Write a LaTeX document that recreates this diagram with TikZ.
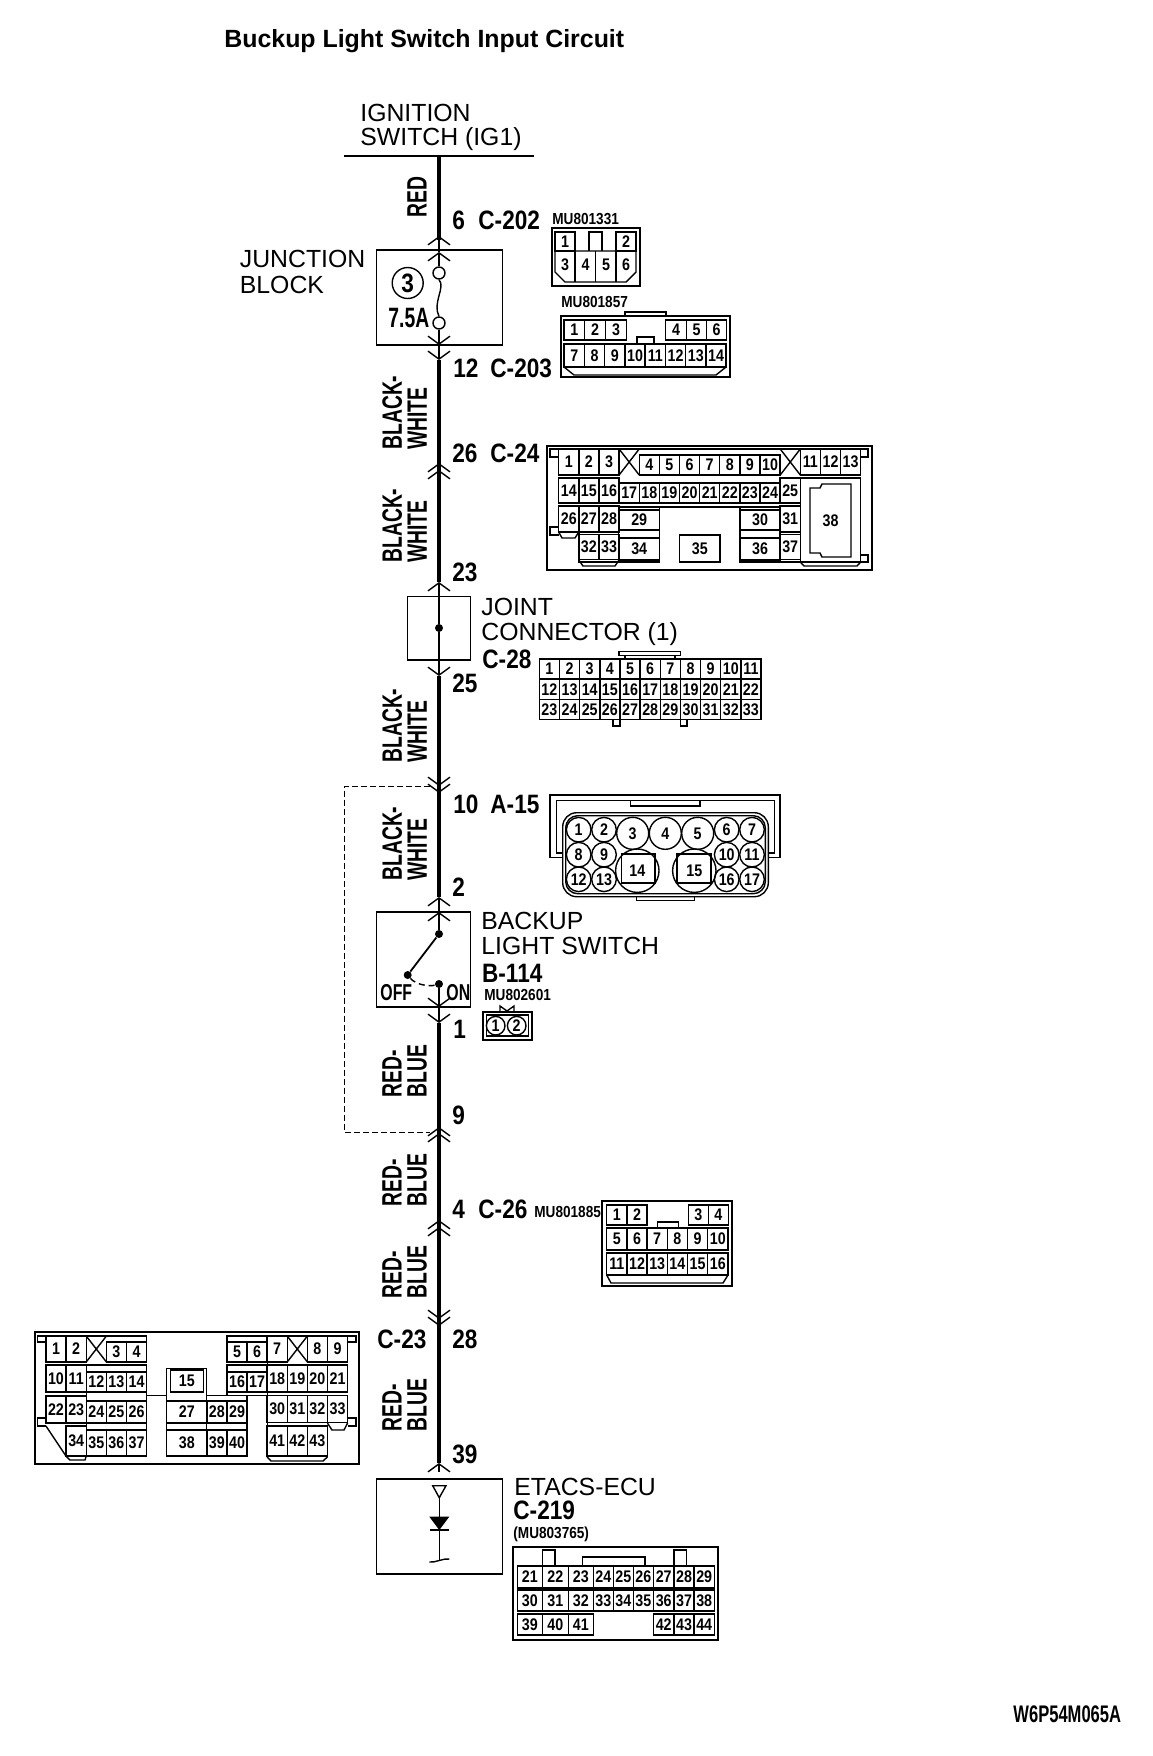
\documentclass[tikz,border=0pt]{standalone}
\usepackage{fontspec}
\setmainfont{Liberation Sans}
\newfontfamily\labface[FakeStretch=.85]{Liberation Sans}
\newfontfamily\wireface[FakeStretch=.69]{Liberation Sans}
\newcommand{\pinfont}{\labface\bfseries\fontsize{8.4}{8.4}\selectfont}
\newcommand{\mufont}{\labface\bfseries\fontsize{8}{8}\selectfont}
\newcommand{\labfont}{\labface\bfseries\fontsize{13.3}{13.3}\selectfont}
\newcommand{\wirefont}{\wireface\bfseries\fontsize{14}{12.5}\selectfont}
\newcommand{\namefont}{\fontsize{12.4}{12}\selectfont}
\usetikzlibrary{arrows.meta}
\tikzset{
  thickwire/.style={line width=2pt},
  thinwire/.style={line width=.7pt},
  barb/.style={-{Straight Barb[length=4pt,width=11pt]}},
  boxline/.style={line width=.7pt},
  pinline/.style={line width=.7pt},
  pinbox/.style 2 args={draw,line width=.7pt,inner sep=0pt,font=\pinfont,minimum width=#1*.5pt,minimum height=#2*.5pt},
  pintext/.style={inner sep=0pt,font=\pinfont},
  pinround/.style={circle,draw,line width=.7pt,inner sep=0pt,font=\pinfont,minimum size=#1*.5pt},
  dotnode/.style={circle,fill=black,inner sep=0pt,minimum size=4pt},
  fusenode/.style={circle,draw,line width=.7pt,inner sep=0pt,minimum size=6pt},
  lab/.style={anchor=base west,inner sep=0pt,font=\labfont},
  mulab/.style={anchor=base west,inner sep=0pt,font=\mufont},
  namelab/.style={anchor=base west,inner sep=0pt,font=\namefont},
  wirelab/.style={anchor=west,rotate=90,inner sep=0pt,align=left,font=\wirefont},
  swlab/.style={anchor=base west,inner sep=0pt,font=\wireface\bfseries\fontsize{#1}{#1}\selectfont}
}
\begin{document}
\begin{tikzpicture}[x=.5pt,y=-.5pt]
\useasboundingbox (0,0) rectangle (1152,1756);
\node[anchor=base west,inner sep=0pt,font=\bfseries\fontsize{12.45}{12.45}\selectfont] (title) at (224,47) {Buckup Light Switch Input Circuit};
\node[namelab] (ign1) at (360,121) {IGNITION};
\node[namelab] (ign2) at (360,145) {SWITCH (IG1)};
\node[namelab] (jb1) at (239.5,267) {JUNCTION};
\node[namelab] (jb2) at (239.5,293) {BLOCK};
\node[namelab] (jc1) at (481,615) {JOINT};
\node[namelab] (jc2) at (481,640) {CONNECTOR (1)};
\node[namelab] (bl1) at (481,929) {BACKUP};
\node[namelab] (bl2) at (481,954) {LIGHT SWITCH};
\node[namelab] (ecu) at (514,1495) {ETACS-ECU};
\node[lab] (n6) at (452,229) {6};
\node[lab] (c202) at (478,229) {C-202};
\node[lab] (n12) at (453,377) {12};
\node[lab] (c203) at (490,377) {C-203};
\node[lab] (n26) at (452,462) {26};
\node[lab] (c24) at (490,462) {C-24};
\node[lab] (n23) at (452,581) {23};
\node[lab] (n25) at (452,692) {25};
\node[lab] (c28) at (482,668) {C-28};
\node[lab] (n10) at (453,813) {10};
\node[lab] (a15) at (490,813) {A-15};
\node[lab] (n2) at (452,896) {2};
\node[lab] (b114) at (481.7,982) {B-114};
\node[lab] (n1) at (453,1038) {1};
\node[lab] (n9) at (452,1124) {9};
\node[lab] (n4) at (452,1218) {4};
\node[lab] (c26) at (478,1218) {C-26};
\node[lab] (c23) at (377,1348) {C-23};
\node[lab] (n28) at (452,1348) {28};
\node[lab] (n39) at (452,1463) {39};
\node[lab] (c219) at (513,1519) {C-219};
\node[mulab] (mu1) at (552,224) {MU801331};
\node[mulab] (mu2) at (561,307) {MU801857};
\node[mulab] (mu3) at (484,1000.7) {MU802601};
\node[mulab] (mu4) at (534,1217) {MU801885};
\node[mulab] (mu5) at (513,1538) {(MU803765)};
\node[swlab=12] (code) at (1013,1722) {W6P54M065A};
\node[wirelab] (w1) at (417,218) {RED};
\node[wirelab] (w2) at (404.5,450) {BLACK-\\WHITE};
\node[wirelab] (w3) at (404.5,563) {BLACK-\\WHITE};
\node[wirelab] (w4) at (404.5,763) {BLACK-\\WHITE};
\node[wirelab] (w5) at (404.5,881) {BLACK-\\WHITE};
\node[wirelab] (w6) at (404.5,1098) {RED-\\BLUE};
\node[wirelab] (w7) at (404.5,1207) {RED-\\BLUE};
\node[wirelab] (w8) at (404.5,1299) {RED-\\BLUE};
\node[wirelab] (w9) at (404.5,1432) {RED-\\BLUE};
\draw[boxline] (376.7,250) rectangle (502.7,345);
\draw[boxline] (407.7,596.7) rectangle (470.7,660);
\draw[boxline] (376.7,912) rectangle (470.7,1007);
\draw[boxline] (376.7,1479) rectangle (502.3,1574);
\draw[line width=.5pt,dash pattern=on 3pt off 1.5pt] (430,786) -- (344.7,786) -- (344.7,1132.3) -- (430,1132.3);
\draw[line width=1.1pt] (344,156) -- (534,156);
\coordinate (ig) at (439,156);
\coordinate (m236) at (439,236);
\coordinate (m240) at (439,240);
\coordinate (m252) at (439,252);
\node[fusenode] (fusea) at (439,273) {};
\node[fusenode] (fuseb) at (439,323) {};
\coordinate (m345) at (439,345);
\coordinate (m360) at (439,360);
\coordinate (m463) at (439,463);
\coordinate (m470) at (439,470);
\coordinate (m480) at (439,480);
\coordinate (m582) at (439,582);
\node[dotnode] (jdot) at (439,628) {};
\coordinate (m676) at (439,676);
\coordinate (m779) at (439,779);
\coordinate (m786) at (439,786);
\coordinate (m793) at (439,793);
\coordinate (m897) at (439,897);
\coordinate (m912) at (439,912);
\node[dotnode] (swa) at (439,934) {};
\node[dotnode] (swb) at (407.7,975) {};
\node[dotnode] (swc) at (439,984) {};
\coordinate (m1007) at (439,1007);
\coordinate (m1023) at (439,1023);
\coordinate (m1127) at (439,1127);
\coordinate (m1133) at (439,1133);
\coordinate (m1141) at (439,1141);
\coordinate (m1220) at (439,1220);
\coordinate (m1227) at (439,1227);
\coordinate (m1235) at (439,1235);
\coordinate (m1312) at (439,1312);
\coordinate (m1319) at (439,1319);
\coordinate (m1326) at (439,1326);
\coordinate (m1463) at (439,1463);
\coordinate (m1472) at (439,1472);
\draw[thickwire] (ig) -- (m240);
\draw[thickwire] (m360) -- (m582);
\draw[thickwire] (m676) -- (m897);
\draw[thickwire] (m1023) -- (m1463);
\draw[thinwire,barb] (m252) -- (m236);
\draw[thinwire,barb] (fusea) -- (m252);
\draw[thinwire] (fusea.south) .. controls (446,287) and (432,303) .. (fuseb.north);
\draw[thinwire,barb] (fuseb) -- (m345);
\draw[thinwire,barb] (m345) -- (m360);
\draw[thinwire,barb] (m470) -- (m463);
\draw[thinwire,barb] (m480) -- (m470);
\draw[thinwire,barb] (jdot) -- (m582);
\draw[thinwire,barb] (jdot) -- (m676);
\draw[thinwire,barb] (m779) -- (m786);
\draw[thinwire,barb] (m786) -- (m793);
\draw[thinwire,barb] (m912) -- (m897);
\draw[thinwire,barb] (swa) -- (m912);
\draw[line width=.9pt] (swa) -- (swb);
\draw[thinwire,dash pattern=on 3pt off 2pt] (swb) .. controls (415,984) and (428,987) .. (swc);
\draw[thinwire,barb] (swc) -- (m1007);
\draw[thinwire,barb] (m1007) -- (m1023);
\draw[thinwire,barb] (m1133) -- (m1127);
\draw[thinwire,barb] (m1141) -- (m1133);
\draw[thinwire,barb] (m1227) -- (m1220);
\draw[thinwire,barb] (m1235) -- (m1227);
\draw[thinwire,barb] (m1312) -- (m1319);
\draw[thinwire,barb] (m1319) -- (m1326);
\draw[thinwire,barb] (m1472) -- (m1463);
\node[pinround=31,font=\labfont] (fuse3) at (407.7,283) {3};
\node[swlab=14] (amp) at (388,327) {7.5A};
\node[swlab=11.5] (off) at (380,1000) {OFF};
\node[swlab=11.5] (on) at (446,1000) {ON};
\coordinate (tri) at (439.3,1497.7);
\coordinate (diode) at (439.3,1530);
\coordinate (gnd) at (439.3,1560);
\draw[thinwire] (432.7,1485.7) -- (446,1485.7) -- (tri) -- cycle;
\draw[thinwire] (tri) -- (diode);
\fill (429.3,1516.7) -- (449.3,1516.7) -- (diode) -- cycle;
\draw[thinwire] (429.5,1530) -- (449,1530);
\draw[thinwire] (diode) -- (gnd);
\draw[thinwire] (429.3,1562) .. controls (435,1563) and (443,1558) .. (449.3,1559);
\draw[line width=.85pt] (552,228) rectangle (640,286);
\node[pinbox={20}{19}] (c202p1) at (565,241.5) {1};
\node[pinbox={20}{19}] (c202p2) at (626,241.5) {2};
\draw[pinline] (589,251) -- (589,232) -- (602,232) -- (602,251);
\draw[pinline] (555,251) -- (636,251) -- (636,272) -- (626,282) -- (565,282) -- (555,272) -- cycle;
\draw[pinline] (575,251) -- (575,282) (595.5,251) -- (595.5,282) (616,251) -- (616,282);
\node[pintext] (c202p3) at (565,265) {3};
\node[pintext] (c202p4) at (585.5,265) {4};
\node[pintext] (c202p5) at (606,265) {5};
\node[pintext] (c202p6) at (626,265) {6};
\draw[line width=.85pt] (561,316) rectangle (730,377);
\draw[pinline] (625,316) -- (625,312) -- (666,312) -- (666,316);
\draw[pinline] (637,343) -- (637,337) -- (654,337) -- (654,343);
\draw[pinline] (564,367) -- (574,375) -- (716,375) -- (726,367);
\node[pinbox={20.5}{20}] (c203p1) at (574.3,330) {1};
\node[pinbox={20.5}{20}] (c203p2) at (595,330) {2};
\node[pinbox={20.5}{20}] (c203p3) at (616,330) {3};
\node[pinbox={20.5}{20}] (c203p4) at (676,330) {4};
\node[pinbox={20.5}{20}] (c203p5) at (696.5,330) {5};
\node[pinbox={20.5}{20}] (c203p6) at (716.5,330) {6};
\node[pinbox={20.3}{23}] (c203p7) at (574.3,355.5) {7};
\node[pinbox={20.3}{23}] (c203p8) at (594.5,355.5) {8};
\node[pinbox={20.3}{23}] (c203p9) at (614.8,355.5) {9};
\node[pinbox={20.3}{23}] (c203p10) at (635,355.5) {10};
\node[pinbox={20.3}{23}] (c203p11) at (655.3,355.5) {11};
\node[pinbox={20.3}{23}] (c203p12) at (675.5,355.5) {12};
\node[pinbox={20.3}{23}] (c203p13) at (695.8,355.5) {13};
\node[pinbox={20.3}{23}] (c203p14) at (716,355.5) {14};
\draw[line width=.85pt] (546.7,445.7) rectangle (872.3,570);
\draw[pinline] (558.7,449) -- (860.7,449);
\draw[pinline] (558.7,449) -- (550,449) -- (550,457) -- (558.7,457);
\draw[pinline] (860.7,449) -- (868,449) -- (868,457) -- (860.7,457);
\draw[pinline] (558.7,527) -- (550,527) -- (550,535) -- (558.7,535);
\draw[pinline] (860.7,555) -- (868,555) -- (868,562) -- (860.7,562);
\draw[pinline] (558.7,532) -- (562,538) -- (575,538) -- (578.8,532);
\draw[pinline] (578.8,560) -- (583,566) -- (615,566) -- (619,560);
\draw[pinline] (800.3,562) -- (804,566) -- (857,566) -- (860.7,562);
\draw[pinline] (800.3,478) rectangle (860.7,562);
\draw[pinline] (619.1,449) -- (639.2,475) (639.2,449) -- (619.1,475);
\draw[pinline] (780.2,449) -- (800.3,475) (800.3,449) -- (780.2,475);
\draw[pinline] (618.7,507) rectangle (659.3,562);
\draw[pinline] (740,507) rectangle (780.1,562);
\draw[pinline] (659.3,507) -- (740,507);
\draw[pinline] (679.7,535) rectangle (720,562);
\draw[pinline] (578.8,507) -- (578.8,562) -- (618.7,562);
\draw[pinline] (780.1,507) -- (780.1,562) -- (800.3,562);
\draw[pinline] (810,488) -- (820,488) -- (822,484) -- (851,484) -- (851,557) -- (822,557) -- (820,553) -- (810,553) -- cycle;
\node[pinbox={20.1}{26}] (c24p1) at (568.8,462) {1};
\node[pinbox={20.1}{26}] (c24p2) at (588.9,462) {2};
\node[pinbox={20.1}{26}] (c24p3) at (609,462) {3};
\node[pinbox={20.1}{20}] (c24p4) at (649.3,465) {4};
\node[pinbox={20.1}{20}] (c24p5) at (669.4,465) {5};
\node[pinbox={20.1}{20}] (c24p6) at (689.6,465) {6};
\node[pinbox={20.1}{20}] (c24p7) at (709.7,465) {7};
\node[pinbox={20.1}{20}] (c24p8) at (729.8,465) {8};
\node[pinbox={20.1}{20}] (c24p9) at (749.9,465) {9};
\node[pinbox={20.1}{20}] (c24p10) at (770.1,465) {10};
\node[pinbox={20.1}{26}] (c24p11) at (810.3,462) {11};
\node[pinbox={20.1}{26}] (c24p12) at (830.5,462) {12};
\node[pinbox={20.1}{26}] (c24p13) at (850.6,462) {13};
\node[pinbox={20.1}{25}] (c24p14) at (568.8,490.5) {14};
\node[pinbox={20.1}{25}] (c24p15) at (588.9,490.5) {15};
\node[pinbox={20.1}{25}] (c24p16) at (609,490.5) {16};
\node[pinbox={20.1}{20}] (c24p17) at (629.2,493) {17};
\node[pinbox={20.1}{20}] (c24p18) at (649.3,493) {18};
\node[pinbox={20.1}{20}] (c24p19) at (669.4,493) {19};
\node[pinbox={20.1}{20}] (c24p20) at (689.6,493) {20};
\node[pinbox={20.1}{20}] (c24p21) at (709.7,493) {21};
\node[pinbox={20.1}{20}] (c24p22) at (729.8,493) {22};
\node[pinbox={20.1}{20}] (c24p23) at (749.9,493) {23};
\node[pinbox={20.1}{20}] (c24p24) at (770.1,493) {24};
\node[pinbox={20.1}{25}] (c24p25) at (790.2,490.5) {25};
\node[pinbox={20.1}{26}] (c24p26) at (568.8,519) {26};
\node[pinbox={20.1}{26}] (c24p27) at (588.9,519) {27};
\node[pinbox={20.1}{26}] (c24p28) at (609,519) {28};
\node[pinbox={40.2}{20}] (c24p29) at (639.2,520) {29};
\node[pinbox={40.2}{20}] (c24p30) at (760,520) {30};
\node[pinbox={20.1}{26}] (c24p31) at (790.2,519) {31};
\node[pinbox={20.1}{25}] (c24p32) at (588.9,547) {32};
\node[pinbox={20.1}{25}] (c24p33) at (609,547) {33};
\node[pinbox={40.2}{22}] (c24p34) at (639.2,549) {34};
\node[pintext] (c24p35) at (699.8,549) {35};
\node[pinbox={40.2}{22}] (c24p36) at (760,549) {36};
\node[pinbox={20.1}{25}] (c24p37) at (790.2,547) {37};
\node[pintext] (c24p38) at (830.5,520.5) {38};
\draw[pinline] (619,651.7) rectangle (680.7,655.7);
\draw[pinline] (625,655.7) -- (625,658.7) (675,655.7) -- (675,658.7);
\draw[pinline] (613,720) -- (613,726) -- (620,726) -- (620,720);
\draw[pinline] (680.7,720) -- (680.7,726) -- (687,726) -- (687,720);
\node[pinbox={20.15}{20.4}] (c28p1) at (549.4,669) {1};
\node[pinbox={20.15}{20.4}] (c28p2) at (569.6,669) {2};
\node[pinbox={20.15}{20.4}] (c28p3) at (589.7,669) {3};
\node[pinbox={20.15}{20.4}] (c28p4) at (609.9,669) {4};
\node[pinbox={20.15}{20.4}] (c28p5) at (630,669) {5};
\node[pinbox={20.15}{20.4}] (c28p6) at (650.2,669) {6};
\node[pinbox={20.15}{20.4}] (c28p7) at (670.3,669) {7};
\node[pinbox={20.15}{20.4}] (c28p8) at (690.5,669) {8};
\node[pinbox={20.15}{20.4}] (c28p9) at (710.6,669) {9};
\node[pinbox={20.15}{20.4}] (c28p10) at (730.8,669) {10};
\node[pinbox={20.15}{20.4}] (c28p11) at (750.9,669) {11};
\node[pinbox={20.15}{20.4}] (c28p12) at (549.4,689.3) {12};
\node[pinbox={20.15}{20.4}] (c28p13) at (569.6,689.3) {13};
\node[pinbox={20.15}{20.4}] (c28p14) at (589.7,689.3) {14};
\node[pinbox={20.15}{20.4}] (c28p15) at (609.9,689.3) {15};
\node[pinbox={20.15}{20.4}] (c28p16) at (630,689.3) {16};
\node[pinbox={20.15}{20.4}] (c28p17) at (650.2,689.3) {17};
\node[pinbox={20.15}{20.4}] (c28p18) at (670.3,689.3) {18};
\node[pinbox={20.15}{20.4}] (c28p19) at (690.5,689.3) {19};
\node[pinbox={20.15}{20.4}] (c28p20) at (710.6,689.3) {20};
\node[pinbox={20.15}{20.4}] (c28p21) at (730.8,689.3) {21};
\node[pinbox={20.15}{20.4}] (c28p22) at (750.9,689.3) {22};
\node[pinbox={20.15}{20.4}] (c28p23) at (549.4,709.5) {23};
\node[pinbox={20.15}{20.4}] (c28p24) at (569.6,709.5) {24};
\node[pinbox={20.15}{20.4}] (c28p25) at (589.7,709.5) {25};
\node[pinbox={20.15}{20.4}] (c28p26) at (609.9,709.5) {26};
\node[pinbox={20.15}{20.4}] (c28p27) at (630,709.5) {27};
\node[pinbox={20.15}{20.4}] (c28p28) at (650.2,709.5) {28};
\node[pinbox={20.15}{20.4}] (c28p29) at (670.3,709.5) {29};
\node[pinbox={20.15}{20.4}] (c28p30) at (690.5,709.5) {30};
\node[pinbox={20.15}{20.4}] (c28p31) at (710.6,709.5) {31};
\node[pinbox={20.15}{20.4}] (c28p32) at (730.8,709.5) {32};
\node[pinbox={20.15}{20.4}] (c28p33) at (750.9,709.5) {33};
\draw[pinline] (562.7,857.7) -- (550,857.7) -- (550,795) -- (780,795) -- (780,857.7) -- (768.3,857.7);
\draw[pinline] (562.7,853) -- (556.7,853) -- (556.7,800.7) -- (774.3,800.7) -- (774.3,853) -- (768.3,853);
\draw[pinline] (630.7,800.7) -- (630.7,806) -- (700,806) -- (700,800.7);
\draw[pinline] (636.7,896.7) -- (636.7,900.7) -- (694.3,900.7) -- (694.3,896.7);
\draw[pinline,rounded corners=7pt] (562.7,812.7) rectangle (768.3,896.7);
\draw[pinline,rounded corners=6pt] (565.7,815.7) rectangle (765.3,893.7);
\draw[pinline] (621.7,854) rectangle (655,883);
\draw[pinline] (677,854) rectangle (711,883);
\node[pinround=24.6] (a15p1) at (578.7,829.7) {1};
\node[pinround=24.6] (a15p2) at (604,829.7) {2};
\node[pinround=32] (a15p3) at (632.7,833.3) {3};
\node[pinround=32] (a15p4) at (665.3,833.3) {4};
\node[pinround=32] (a15p5) at (697.7,833.3) {5};
\node[pinround=24.6] (a15p6) at (726.7,829.7) {6};
\node[pinround=24.6] (a15p7) at (752,829.7) {7};
\node[pinround=24.6] (a15p8) at (578.7,854.7) {8};
\node[pinround=24.6] (a15p9) at (604,854.7) {9};
\node[pinround=24.6] (a15p10) at (726.7,854.7) {10};
\node[pinround=24.6] (a15p11) at (752,854.7) {11};
\node[pinround=24.6] (a15p12) at (578.7,879.3) {12};
\node[pinround=24.6] (a15p13) at (604,879.3) {13};
\node[pinround=43.4] (a15p14) at (637.3,870.7) {14};
\node[pinround=43.4] (a15p15) at (694.3,870.7) {15};
\node[pinround=24.6] (a15p16) at (726.7,879.3) {16};
\node[pinround=24.6] (a15p17) at (752,879.3) {17};
\draw[line width=.85pt] (483.3,1011.7) rectangle (531.7,1040);
\draw[pinline] (486.7,1015) rectangle (528.3,1036);
\draw[pinline] (500,1012) -- (500,1006) -- (507,1011) -- (514,1006) -- (514,1012);
\node[pinround=18.6] (b114p1) at (495.7,1025.7) {1};
\node[pinround=18.6] (b114p2) at (516.7,1025.7) {2};
\draw[line width=.85pt] (602.3,1200.7) rectangle (732.3,1286);
\draw[pinline] (657.3,1228) -- (657.3,1222) -- (678.3,1222) -- (678.3,1228);
\draw[pinline] (606.7,1275) -- (611,1283) -- (723,1283) -- (728,1275);
\node[pinbox={20.2}{20}] (c26p1) at (616.8,1215) {1};
\node[pinbox={20.2}{20}] (c26p2) at (637,1215) {2};
\node[pinbox={20.2}{20}] (c26p3) at (698.3,1215) {3};
\node[pinbox={20.2}{20}] (c26p4) at (718.3,1215) {4};
\node[pinbox={20.2}{22}] (c26p5) at (616.8,1239) {5};
\node[pinbox={20.2}{22}] (c26p6) at (637,1239) {6};
\node[pinbox={20.2}{22}] (c26p7) at (657.2,1239) {7};
\node[pinbox={20.2}{22}] (c26p8) at (677.4,1239) {8};
\node[pinbox={20.2}{22}] (c26p9) at (697.6,1239) {9};
\node[pinbox={20.2}{22}] (c26p10) at (717.8,1239) {10};
\node[pinbox={20.2}{22}] (c26p11) at (616.8,1264) {11};
\node[pinbox={20.2}{22}] (c26p12) at (637,1264) {12};
\node[pinbox={20.2}{22}] (c26p13) at (657.2,1264) {13};
\node[pinbox={20.2}{22}] (c26p14) at (677.4,1264) {14};
\node[pinbox={20.2}{22}] (c26p15) at (697.6,1264) {15};
\node[pinbox={20.2}{22}] (c26p16) at (717.8,1264) {16};
\draw[line width=.85pt] (35,1332.3) rectangle (359.3,1464);
\draw[pinline] (46,1336) -- (37.5,1336) -- (37.5,1342) -- (46,1342);
\draw[pinline] (347.7,1336) -- (356,1336) -- (356,1342) -- (347.7,1342);
\draw[pinline] (46,1418) -- (37.5,1418) -- (37.5,1426) -- (46,1426);
\draw[pinline] (347.7,1418) -- (356,1418) -- (356,1426) -- (347.7,1426);
\draw[pinline] (46,1336) -- (146.7,1336) -- (146.7,1362) (227,1362) -- (227,1336) -- (347.7,1336);
\draw[pinline] (146.7,1395.7) -- (166.7,1395.7) (206.7,1395.7) -- (227,1395.7);
\draw[pinline] (46,1426) -- (66,1456) -- (70,1460) -- (85,1460) -- (86.3,1456);
\draw[pinline] (267.2,1457) -- (271,1461) -- (323,1461) -- (327.4,1457);
\draw[pinline] (327.4,1423) -- (332,1430) -- (344,1430) -- (347.6,1423);
\draw[pinline] (86.2,1336) -- (106.4,1362) (106.4,1336) -- (86.2,1362);
\draw[pinline] (287.2,1336) -- (307.4,1362) (307.4,1336) -- (287.2,1362);
\draw[pinline] (86.2,1365) rectangle (146.7,1456.7);
\draw[pinline] (166.7,1368.3) rectangle (206.7,1456.7);
\draw[pinline] (206.7,1395.7) rectangle (247,1456.7);
\draw[pinline] (227,1365) rectangle (267.2,1395.7);
\draw[pinline] (267.2,1336) -- (267.2,1457);
\node[pinbox={20.1}{26}] (c23p1) at (56,1349) {1};
\node[pinbox={20.1}{26}] (c23p2) at (76.2,1349) {2};
\node[pinbox={20.1}{20}] (c23p3) at (116.4,1352) {3};
\node[pinbox={20.1}{20}] (c23p4) at (136.5,1352) {4};
\node[pinbox={20.1}{20}] (c23p5) at (237,1352) {5};
\node[pinbox={20.1}{20}] (c23p6) at (257.1,1352) {6};
\node[pinbox={20.1}{26}] (c23p7) at (277.2,1349) {7};
\node[pinbox={20.1}{26}] (c23p8) at (317.4,1349) {8};
\node[pinbox={20.1}{26}] (c23p9) at (337.5,1349) {9};
\node[pinbox={20.1}{27}] (c23p10) at (56,1378.5) {10};
\node[pinbox={20.1}{27}] (c23p11) at (76.2,1378.5) {11};
\node[pinbox={20.1}{20}] (c23p12) at (96.3,1382) {12};
\node[pinbox={20.1}{20}] (c23p13) at (116.4,1382) {13};
\node[pinbox={20.1}{20}] (c23p14) at (136.5,1382) {14};
\node[pinbox={33}{22}] (c23p15) at (186.8,1381) {15};
\node[pinbox={20.1}{20}] (c23p16) at (237,1382) {16};
\node[pinbox={20.1}{20}] (c23p17) at (257.1,1382) {17};
\node[pinbox={20.1}{27}] (c23p18) at (277.2,1378.5) {18};
\node[pinbox={20.1}{27}] (c23p19) at (297.3,1378.5) {19};
\node[pinbox={20.1}{27}] (c23p20) at (317.4,1378.5) {20};
\node[pinbox={20.1}{27}] (c23p21) at (337.5,1378.5) {21};
\node[pinbox={20.1}{27}] (c23p22) at (56,1409.5) {22};
\node[pinbox={20.1}{27}] (c23p23) at (76.2,1409.5) {23};
\node[pinbox={20.1}{22}] (c23p24) at (96.3,1412) {24};
\node[pinbox={20.1}{22}] (c23p25) at (116.4,1412) {25};
\node[pinbox={20.1}{22}] (c23p26) at (136.5,1412) {26};
\node[pinbox={40.2}{22}] (c23p27) at (186.8,1412) {27};
\node[pinbox={20.1}{22}] (c23p28) at (216.9,1412) {28};
\node[pinbox={20.1}{22}] (c23p29) at (237,1412) {29};
\node[pinbox={20.1}{27}] (c23p30) at (277.2,1409) {30};
\node[pinbox={20.1}{27}] (c23p31) at (297.3,1409) {31};
\node[pinbox={20.1}{27}] (c23p32) at (317.4,1409) {32};
\node[pinbox={20.1}{27}] (c23p33) at (337.5,1409) {33};
\node[pinbox={20.1}{30}] (c23p34) at (76.2,1441) {34};
\node[pinbox={20.1}{26}] (c23p35) at (96.3,1443) {35};
\node[pinbox={20.1}{26}] (c23p36) at (116.4,1443) {36};
\node[pinbox={20.1}{26}] (c23p37) at (136.5,1443) {37};
\node[pinbox={40.2}{26}] (c23p38) at (186.8,1443) {38};
\node[pinbox={20.1}{26}] (c23p39) at (216.9,1443) {39};
\node[pinbox={20.1}{26}] (c23p40) at (237,1443) {40};
\node[pinbox={20.1}{30}] (c23p41) at (277.2,1441) {41};
\node[pinbox={20.1}{30}] (c23p42) at (297.3,1441) {42};
\node[pinbox={20.1}{30}] (c23p43) at (317.4,1441) {43};
\draw[line width=.85pt] (513.3,1546.7) rectangle (718.3,1640);
\draw[pinline] (542.3,1565) -- (542.3,1550) -- (555,1550) -- (555,1565);
\draw[pinline] (674,1565) -- (674,1550) -- (686.7,1550) -- (686.7,1565);
\draw[pinline] (582.7,1565) -- (582.7,1557) -- (645,1557) -- (645,1565);
\draw[line width=1.2pt] (517.3,1566) -- (714.3,1566);
\node[pinbox={25}{22}] (c219p21) at (529.8,1577) {21};
\node[pinbox={26}{22}] (c219p22) at (555.3,1577) {22};
\node[pinbox={25}{22}] (c219p23) at (580.8,1577) {23};
\node[pinbox={20}{22}] (c219p24) at (603.3,1577) {24};
\node[pinbox={20}{22}] (c219p25) at (623.3,1577) {25};
\node[pinbox={20}{22}] (c219p26) at (643.3,1577) {26};
\node[pinbox={20.7}{22}] (c219p27) at (663.7,1577) {27};
\node[pinbox={20}{22}] (c219p28) at (684,1577) {28};
\node[pinbox={20}{22}] (c219p29) at (704.2,1577) {29};
\node[pinbox={25}{21}] (c219p30) at (529.8,1600.5) {30};
\node[pinbox={26}{21}] (c219p31) at (555.3,1600.5) {31};
\node[pinbox={25}{21}] (c219p32) at (580.8,1600.5) {32};
\node[pinbox={20}{21}] (c219p33) at (603.3,1600.5) {33};
\node[pinbox={20}{21}] (c219p34) at (623.3,1600.5) {34};
\node[pinbox={20}{21}] (c219p35) at (643.3,1600.5) {35};
\node[pinbox={20.7}{21}] (c219p36) at (663.7,1600.5) {36};
\node[pinbox={20}{21}] (c219p37) at (684,1600.5) {37};
\node[pinbox={20}{21}] (c219p38) at (704.2,1600.5) {38};
\node[pinbox={25}{21}] (c219p39) at (529.8,1624.5) {39};
\node[pinbox={26}{21}] (c219p40) at (555.3,1624.5) {40};
\node[pinbox={25}{21}] (c219p41) at (580.8,1624.5) {41};
\node[pinbox={20.7}{21}] (c219p42) at (663.7,1624.5) {42};
\node[pinbox={20}{21}] (c219p43) at (684,1624.5) {43};
\node[pinbox={20}{21}] (c219p44) at (704.2,1624.5) {44};
\end{tikzpicture}
\end{document}
